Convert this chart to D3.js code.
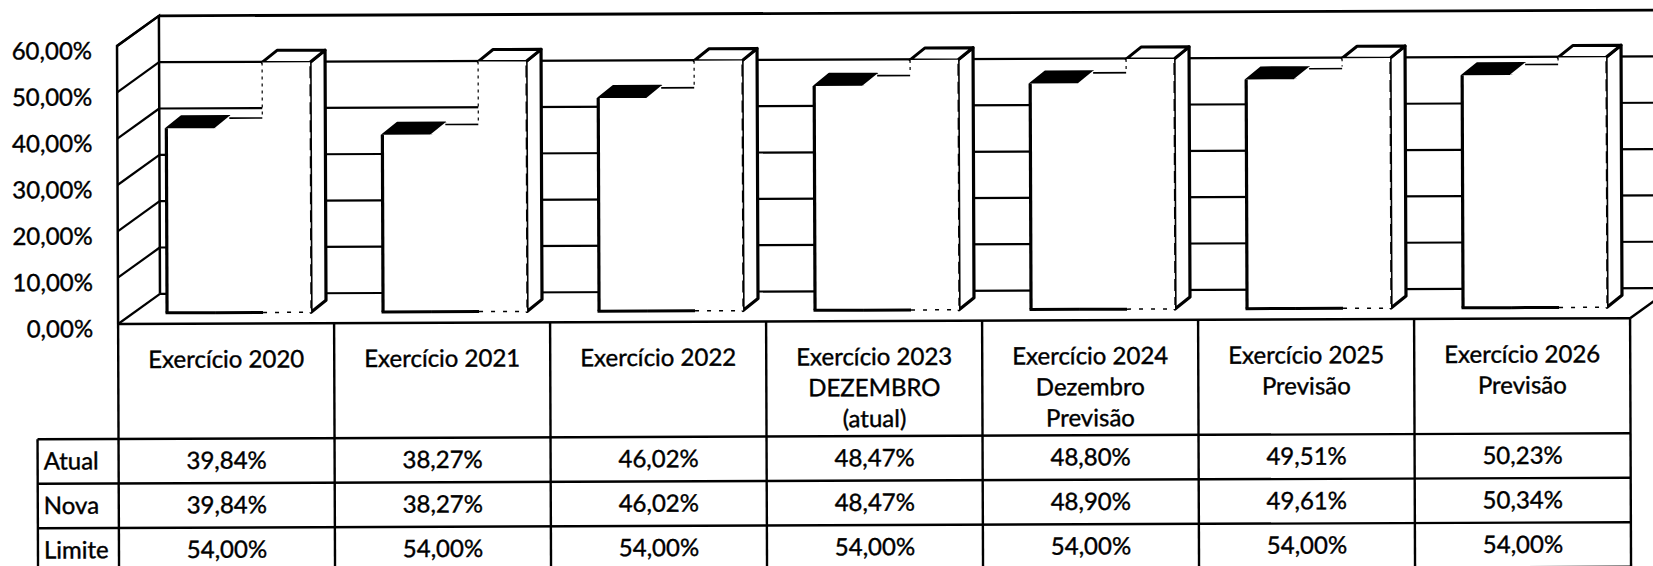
<!DOCTYPE html>
<html>
<head>
<meta charset="utf-8">
<script src="https://cdn.jsdelivr.net/npm/d3@7"></script>
<style>
  body { margin: 0; background: #fff; }
  svg text { font-family: Lato, "Open Sans", sans-serif; font-size: 24px; fill: #000; stroke: #000; stroke-width: 0.4px; }
</style>
</head>
<body>
<div id="app"></div>
<script>
// data
var categories = ['2020', '2021', '2022', '2023', '2024', '2025', '2026'];
var headerLines = [
  ['Exercício 2020'],
  ['Exercício 2021'],
  ['Exercício 2022'],
  ['Exercício 2023', 'DEZEMBRO', '(atual)'],
  ['Exercício 2024', 'Dezembro', 'Previsão'],
  ['Exercício 2025', 'Previsão'],
  ['Exercício 2026', 'Previsão']
];
var seriesNames = ['Atual', 'Nova', 'Limite'];
var atual = [39.84, 38.27, 46.02, 48.47, 48.80, 49.51, 50.23];
var nova = [39.84, 38.27, 46.02, 48.47, 48.90, 49.61, 50.34];
var limite = [54.00, 54.00, 54.00, 54.00, 54.00, 54.00, 54.00];
var yTicks = [0, 10, 20, 30, 40, 50, 60];

var seriesValues = [atual, nova, limite];

var ptBR = d3.formatLocale({decimal: ',', thousands: '.', grouping: [3], currency: ['R$', '']});
var pct = function(v){ return ptBR.format('.2f')(v) + '%'; };

var width = 1653, height = 566;
var left = 118, right = 1630;
var wallDX = 42, wallDY = -30;   // depth of the floor
var barDX = 15, barDY = -12;     // depth of a column

var svg = d3.select('#app')
  .append('svg')
    .attr('width', width)
    .attr('height', height);

// the scan is slightly rotated
var root = svg.append('g').attr('transform', 'rotate(-0.22,118,300)');

var x = d3.scaleBand().domain(categories).range([left, right]);
var xs = d3.scaleBand().domain(seriesNames).range([49, 193]);
var yFront = d3.scaleLinear().domain([0, 60]).range([324, 46]);
var yBack = d3.scaleLinear().domain([0, 60]).range([324 + wallDY, 46 + wallDY]);
var yBar = d3.scaleLinear().domain([0, 60]).range([313, 313 - 60 * 4.63]);

var line = d3.line();

////////////////////////////////////////
// walls
var walls = root.append('g').attr('class', 'walls')
  .attr('fill', 'none').attr('stroke', '#000');

walls.append('path')
  .attr('d', line([[left, yFront(0)], [left, yFront(60)], [left + wallDX, yBack(60)], [left + wallDX, yBack(0)]]))
  .attr('fill', '#fff')
  .attr('stroke-width', 2.5);

walls.selectAll('.lg')
  .data(yTicks)
  .enter().append('line')
    .attr('class', 'lg')
    .attr('x1', left).attr('y1', function(d){ return yFront(d); })
    .attr('x2', left + wallDX).attr('y2', function(d){ return yBack(d); })
    .attr('stroke-width', 2.2);

walls.selectAll('.bg')
  .data(yTicks)
  .enter().append('line')
    .attr('class', 'bg')
    .attr('x1', left + wallDX).attr('y1', function(d){ return yBack(d); })
    .attr('x2', width + 20).attr('y2', function(d){ return yBack(d); })
    .attr('stroke-width', function(d){ return d === 60 ? 2.8 : 2.2; });

walls.append('line')
  .attr('x1', right).attr('y1', yFront(0))
  .attr('x2', right + wallDX).attr('y2', yBack(0))
  .attr('stroke-width', 2.5);

////////////////////////////////////////
// y axis labels
root.append('g')
  .attr('class', 'yaxis')
  .attr('transform', 'translate(96,5)')
  .call(d3.axisLeft(yFront).tickValues(yTicks).tickSize(0).tickPadding(3).tickFormat(pct))
  .call(function(g){ g.select('.domain').remove(); })
  .selectAll('text')
    .attr('font-family', null).attr('font-size', null).attr('fill', null);

////////////////////////////////////////
// columns
var groups = root.append('g').attr('class', 'bars')
  .selectAll('g')
  .data(categories)
  .enter().append('g')
    .attr('transform', function(d){ return 'translate(' + x(d) + ',0)'; });

groups.each(function(c, i){
  var g = d3.select(this);
  var yb = yBar(0);
  var bw = xs.bandwidth();
  seriesNames.forEach(function(s, k){
    var v = seriesValues[k][i];
    var x0 = xs(s), x1 = x0 + bw, yt = yBar(v);
    var side = [[x1, yb], [x1, yt], [x1 + barDX, yt + barDY], [x1 + barDX, yb + barDY]];
    var top = [[x0, yt], [x0 + barDX, yt + barDY], [x1 + barDX, yt + barDY], [x1, yt]];
    g.append('path').attr('d', line(side) + 'Z').attr('fill', '#fff')
      .attr('stroke', k === 2 ? '#000' : 'none').attr('stroke-width', 3.2).attr('stroke-linejoin', 'round');
    if (k === 1) {
      // lighter top face: only its back edge shows in the scan
      g.append('path').attr('d', line(top) + 'Z').attr('fill', '#fff').attr('stroke', 'none');
      g.append('line')
        .attr('x1', x0 + barDX).attr('y1', yt + barDY + 2)
        .attr('x2', x1 + barDX).attr('y2', yt + barDY + 2)
        .attr('stroke', '#000').attr('stroke-width', 1.6);
    } else {
      g.append('path').attr('d', line(top) + 'Z')
        .attr('fill', k === 0 ? '#000' : '#fff')
        .attr('stroke', '#000')
        .attr('stroke-width', k === 2 ? 3 : 2)
        .attr('stroke-linejoin', 'round');
    }
    g.append('rect')
      .attr('x', x0).attr('y', yt)
      .attr('width', k < 2 ? bw + 1 : bw).attr('height', yb - yt)
      .attr('fill', '#fff');
    if (k === 0) {
      g.append('line').attr('x1', x0).attr('y1', yt).attr('x2', x0).attr('y2', yb)
        .attr('stroke', '#000').attr('stroke-width', 3.2);
    }
    if (k < 2) {
      g.append('line').attr('x1', x0 - (k === 0 ? 1.5 : 0)).attr('y1', yb).attr('x2', x1).attr('y2', yb)
        .attr('stroke', '#000').attr('stroke-width', 3);
    } else {
      var prev = yBar(seriesValues[1][i]);
      g.append('line').attr('x1', x0).attr('y1', yt).attr('x2', x0).attr('y2', prev + barDY)
        .attr('stroke', '#000').attr('stroke-width', 1.2).attr('stroke-dasharray', '3,4');
      g.append('line').attr('x1', x0).attr('y1', yb).attr('x2', x1).attr('y2', yb)
        .attr('stroke', '#000').attr('stroke-width', 1.5).attr('stroke-dasharray', '4,8');
      g.append('line').attr('x1', x1).attr('y1', yt + 4).attr('x2', x1).attr('y2', yb - 4)
        .attr('stroke', '#000').attr('stroke-width', 1.4).attr('stroke-dasharray', '12,6');
    }
  });
});

////////////////////////////////////////
// data table
var tableTop = 324, headTop = 439, rowH = 44.5;
var rows = seriesNames.map(function(s, k){ return {name: s, values: seriesValues[k]}; });
var table = root.append('g').attr('class', 'table');

table.append('line')
  .attr('x1', left).attr('y1', tableTop).attr('x2', right).attr('y2', tableTop)
  .attr('stroke', '#000').attr('stroke-width', 2.5);

table.selectAll('.hl')
  .data(d3.range(rows.length + 1))
  .enter().append('line')
    .attr('class', 'hl')
    .attr('x1', 37).attr('x2', right)
    .attr('y1', function(d){ return headTop + d * rowH; })
    .attr('y2', function(d){ return headTop + d * rowH; })
    .attr('stroke', '#000').attr('stroke-width', 2.4);

table.selectAll('.vl')
  .data(categories.map(function(c){ return x(c); }).concat([right]))
  .enter().append('line')
    .attr('class', 'vl')
    .attr('x1', function(d){ return d; }).attr('x2', function(d){ return d; })
    .attr('y1', tableTop).attr('y2', height + 20)
    .attr('stroke', '#000').attr('stroke-width', 2.4);

table.append('line')
  .attr('x1', 37).attr('x2', 37).attr('y1', headTop).attr('y2', height + 20)
  .attr('stroke', '#000').attr('stroke-width', 2.4);

table.selectAll('.head')
  .data(categories)
  .enter().append('text')
    .attr('class', 'head')
    .attr('text-anchor', 'middle')
    .each(function(c, i){
      d3.select(this).selectAll('tspan')
        .data(headerLines[i])
        .enter().append('tspan')
          .attr('x', x(c) + x.bandwidth() / 2)
          .attr('y', function(t, j){ return 368 + j * 31; })
          .text(function(t){ return t; });
    });

var rowG = table.selectAll('.row')
  .data(rows)
  .enter().append('g')
    .attr('class', 'row')
    .attr('transform', function(d, k){ return 'translate(0,' + (headTop + k * rowH + rowH / 2 + 8) + ')'; });

rowG.append('text')
  .attr('x', 43)
  .text(function(d){ return d.name; });

rowG.selectAll('.val')
  .data(function(d){ return d.values; })
  .enter().append('text')
    .attr('class', 'val')
    .attr('text-anchor', 'middle')
    .attr('x', function(v, i){ return x(categories[i]) + x.bandwidth() / 2; })
    .text(function(v){ return pct(v); });
</script>
</body>
</html>
